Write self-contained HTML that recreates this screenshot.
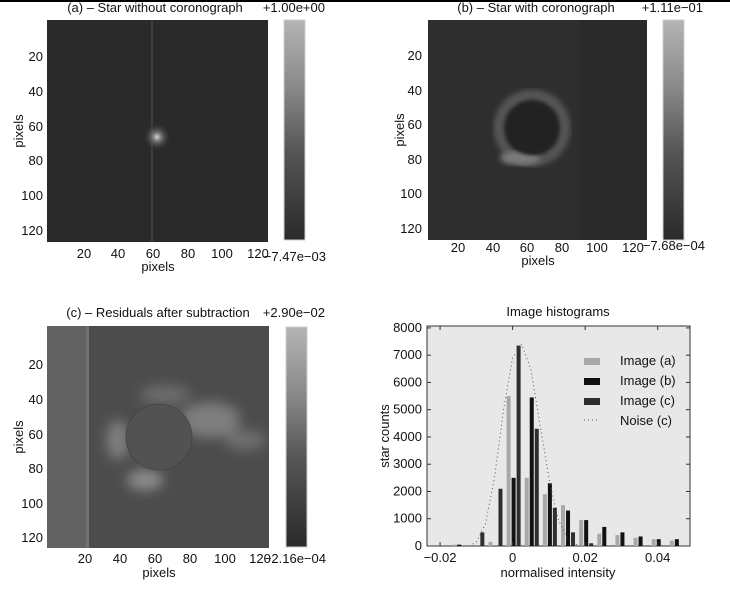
<!DOCTYPE html>
<html><head><meta charset="utf-8"><style>
html,body{margin:0;padding:0;background:#fff;}
svg{display:block;font-family:"Liberation Sans",Arial,sans-serif;}
text{fill:#111;}
</style></head><body>
<svg id="fig" width="730" height="591" viewBox="0 0 730 591">
<defs>
  <filter id="blur3"><feGaussianBlur stdDeviation="3"/></filter>
  <filter id="blur6"><feGaussianBlur stdDeviation="6"/></filter>
  <filter id="blur2"><feGaussianBlur stdDeviation="1.5"/></filter>
  <radialGradient id="star" cx="0.5" cy="0.5" r="0.5">
    <stop offset="0" stop-color="#d0d0d0"/><stop offset="0.3" stop-color="#777"/><stop offset="1" stop-color="#2a2a2a" stop-opacity="0"/>
  </radialGradient>
  <linearGradient id="cb" x1="0" y1="0" x2="0" y2="1">
    <stop offset="0" stop-color="#b4b4b4"/><stop offset="0.3" stop-color="#8a8a8a"/><stop offset="0.6" stop-color="#555"/><stop offset="1" stop-color="#2a2a2a"/>
  </linearGradient>
  <clipPath id="clipA"><rect x="47" y="20" width="221" height="222"/></clipPath>
  <clipPath id="clipB"><rect x="428" y="20" width="219" height="220"/></clipPath>
  <clipPath id="clipC"><rect x="47" y="326" width="222" height="222"/></clipPath>
</defs>
<rect x="0" y="0" width="730" height="2" fill="#000"/>

<!-- Panel A -->
<g>
  <text x="155" y="12" font-size="13" text-anchor="middle">(a) – Star without coronograph</text>
  <text x="325" y="12" font-size="13" text-anchor="end">+1.00e+00</text>
  <g clip-path="url(#clipA)">
    <rect x="47" y="20" width="221" height="222" fill="#2a2a2a"/>
    <rect x="151" y="20" width="2" height="222" fill="#3e3e3e"/>
    <circle cx="157" cy="137" r="14" fill="url(#star)"/>
  </g>
  <rect x="284" y="20" width="21" height="220" fill="url(#cb)" stroke="#ccc"/>
  <text x="326" y="261" font-size="13" text-anchor="end">−7.47e−03</text>
  <g font-size="13" text-anchor="middle">
    <text x="84" y="258">20</text><text x="118" y="258">40</text><text x="153" y="258">60</text><text x="188" y="258">80</text><text x="222" y="258">100</text><text x="258" y="258">120</text>
  </g>
  <text x="158" y="271" font-size="13" text-anchor="middle">pixels</text>
  <g font-size="13" text-anchor="end">
    <text x="43" y="61">20</text><text x="43" y="96">40</text><text x="43" y="131">60</text><text x="43" y="165">80</text><text x="43" y="200">100</text><text x="43" y="235">120</text>
  </g>
  <text transform="translate(23,131) rotate(-90)" font-size="13" text-anchor="middle">pixels</text>
</g>

<!-- Panel B -->
<g>
  <text x="536" y="12" font-size="13" text-anchor="middle">(b) – Star with coronograph</text>
  <text x="703" y="12" font-size="13" text-anchor="end">+1.11e−01</text>
  <g clip-path="url(#clipB)">
    <rect x="428" y="20" width="219" height="220" fill="#2e2e2e"/>
    <rect x="580" y="20" width="67" height="220" fill="#2a2a2a"/>
    <circle cx="532" cy="128" r="33" fill="none" stroke="#555" stroke-width="11" filter="url(#blur3)"/>
    <ellipse cx="520" cy="158" rx="20" ry="7" fill="#7a7a7a" filter="url(#blur3)"/>
    <circle cx="532" cy="128" r="27" fill="#222" filter="url(#blur2)"/>
  </g>
  <rect x="663" y="20" width="21" height="220" fill="url(#cb)" stroke="#ccc"/>
  <text x="705" y="250" font-size="13" text-anchor="end">−7.68e−04</text>
  <g font-size="13" text-anchor="middle">
    <text x="458" y="252">20</text><text x="493" y="252">40</text><text x="527" y="252">60</text><text x="562" y="252">80</text><text x="597" y="252">100</text><text x="633" y="252">120</text>
  </g>
  <text x="538" y="265" font-size="13" text-anchor="middle">pixels</text>
  <g font-size="13" text-anchor="end">
    <text x="422" y="60">20</text><text x="422" y="95">40</text><text x="422" y="129">60</text><text x="422" y="164">80</text><text x="422" y="198">100</text><text x="422" y="233">120</text>
  </g>
  <text transform="translate(404,130) rotate(-90)" font-size="13" text-anchor="middle">pixels</text>
</g>

<!-- Panel C -->
<g>
  <text x="158" y="317" font-size="13" text-anchor="middle">(c) – Residuals after subtraction</text>
  <text x="325" y="317" font-size="13" text-anchor="end">+2.90e−02</text>
  <g clip-path="url(#clipC)">
    <rect x="47" y="326" width="222" height="222" fill="#4c4c4c"/>
    <rect x="47" y="326" width="40" height="222" fill="#626262"/>
    <rect x="86" y="326" width="3" height="222" fill="#727272"/>
    <g filter="url(#blur6)" fill="#7e7e7e">
      <ellipse cx="210" cy="420" rx="30" ry="18"/>
      <ellipse cx="245" cy="440" rx="20" ry="10" fill="#707070"/>
      <ellipse cx="118" cy="440" rx="12" ry="20"/>
      <ellipse cx="145" cy="480" rx="18" ry="10" fill="#8e8e8e"/>
      <ellipse cx="165" cy="395" rx="25" ry="10" fill="#6c6c6c"/>
    </g>
    <circle cx="159" cy="437" r="33" fill="#525252" stroke="#444" stroke-width="0.8"/>
  </g>
  <rect x="286" y="327" width="21" height="220" fill="url(#cb)" stroke="#ccc"/>
  <text x="326" y="563" font-size="13" text-anchor="end">−2.16e−04</text>
  <g font-size="13" text-anchor="middle">
    <text x="85" y="563">20</text><text x="120" y="563">40</text><text x="155" y="563">60</text><text x="190" y="563">80</text><text x="225" y="563">100</text><text x="260" y="563">120</text>
  </g>
  <text x="159" y="577" font-size="13" text-anchor="middle">pixels</text>
  <g font-size="13" text-anchor="end">
    <text x="43" y="369">20</text><text x="43" y="404">40</text><text x="43" y="439">60</text><text x="43" y="473">80</text><text x="43" y="508">100</text><text x="43" y="542">120</text>
  </g>
  <text transform="translate(23,437) rotate(-90)" font-size="13" text-anchor="middle">pixels</text>
</g>

<!-- Histogram -->
<g id="hist">
  <text x="558" y="316" font-size="13" text-anchor="middle">Image histograms</text>
  <rect x="427" y="326" width="263" height="220" fill="#e8e8e8" stroke="#333"/>
  <text x="558" y="577" font-size="13" text-anchor="middle">normalised intensity</text>
  <text transform="translate(389,436) rotate(-90)" font-size="13" text-anchor="middle">star counts</text>
  <g id="bars"></g>
  <g id="axes"></g>
  <g>
    <rect x="584" y="358" width="16" height="7" fill="#a8a8a8"/>
    <text x="620" y="365" font-size="13">Image (a)</text>
    <rect x="584" y="378" width="16" height="7" fill="#111"/>
    <text x="620" y="385" font-size="13">Image (b)</text>
    <rect x="584" y="398" width="16" height="7" fill="#2e2e2e"/>
    <text x="620" y="405" font-size="13">Image (c)</text>
    <line x1="584" y1="420" x2="600" y2="420" stroke="#555" stroke-dasharray="1 3"/>
    <text x="620" y="425" font-size="13">Noise (c)</text>
  </g>
</g>
</svg>
<script>
const binCenters = [-0.015, -0.01, -0.005, 0, 0.005, 0.01, 0.015, 0.02, 0.025, 0.03, 0.035, 0.04, 0.045, 0.05];
const countsA = [50, 0, 150, 5500, 2500, 1900, 1500, 950, 450, 400, 300, 250, 200, 200];
const countsB = [50, 0, 0, 2500, 5450, 2300, 1300, 950, 700, 500, 350, 250, 250, 0];
const countsC = [0, 500, 2100, 7350, 4300, 1400, 500, 100, 0, 0, 0, 0, 0, 0];
const noiseX = [-0.012, -0.01, -0.0075, -0.005, -0.0025, 0, 0.0025, 0.005, 0.0075, 0.01, 0.0125, 0.015, 0.0175, 0.02];
const noiseY = [0, 150, 800, 2500, 5000, 6900, 7400, 6500, 4500, 2500, 1000, 300, 50, 0];
const xTicks = [-0.02, 0, 0.02, 0.04];
const xTickLabels = ["−0.02", "0", "0.02", "0.04"];
const yTicks = [0, 1000, 2000, 3000, 4000, 5000, 6000, 7000, 8000];

const X0 = 427, X1 = 690, Y0 = 546, Y1 = 326;
const xMin = -0.0236, xMax = 0.0489, yMax = 8070;
const sx = v => X0 + (v - xMin) / (xMax - xMin) * (X1 - X0);
const sy = v => Y0 - v / yMax * (Y0 - Y1);
const NS = "http://www.w3.org/2000/svg";
const bars = document.getElementById('bars');
const axes = document.getElementById('axes');
const series = [[countsA, -5, '#a8a8a8', 'a'], [countsB, 0, '#111', 'b'], [countsC, 5, '#2e2e2e', 'c']];
series.forEach(([vals, off, col, key]) => {
  vals.forEach((v, i) => {
    if (v <= 0) return;
    const cx = sx(binCenters[i]) + 1 + off;
    if (cx + 2 > X1) return;
    const r = document.createElementNS(NS, 'rect');
    r.setAttribute('x', cx - 2); r.setAttribute('width', 4);
    r.setAttribute('y', sy(v)); r.setAttribute('height', Y0 - sy(v));
    r.setAttribute('fill', col);
    
    
    bars.appendChild(r);
  });
});
const pl = document.createElementNS(NS, 'polyline');
pl.setAttribute('points', noiseX.map((x, i) => sx(x) + ',' + sy(noiseY[i])).join(' '));
pl.setAttribute('fill', 'none'); pl.setAttribute('stroke', '#555'); pl.setAttribute('stroke-dasharray', '1 3');


bars.appendChild(pl);
xTicks.forEach((t, i) => {
  const x = sx(t);
  const tx = document.createElementNS(NS, 'text');
  tx.setAttribute('x', x); tx.setAttribute('y', 562); tx.setAttribute('font-size', '13'); tx.setAttribute('text-anchor', 'middle');
  tx.textContent = xTickLabels[i];
  
  
  axes.appendChild(tx);
  [[Y0, Y0 - 4], [Y1, Y1 + 4]].forEach(([a, b]) => {
    const l = document.createElementNS(NS, 'line');
    l.setAttribute('x1', x); l.setAttribute('x2', x); l.setAttribute('y1', a); l.setAttribute('y2', b); l.setAttribute('stroke', '#333');
    
    
    axes.appendChild(l);
  });
});
yTicks.forEach(t => {
  const y = sy(t);
  const tx = document.createElementNS(NS, 'text');
  tx.setAttribute('x', 422); tx.setAttribute('y', y + 4); tx.setAttribute('font-size', '13'); tx.setAttribute('text-anchor', 'end');
  tx.textContent = t;
  
  
  axes.appendChild(tx);
  [[X0, X0 + 4], [X1, X1 - 4]].forEach(([a, b]) => {
    const l = document.createElementNS(NS, 'line');
    l.setAttribute('x1', a); l.setAttribute('x2', b); l.setAttribute('y1', y); l.setAttribute('y2', y); l.setAttribute('stroke', '#333');
    
    
    axes.appendChild(l);
  });
});
</script>
</body></html>
